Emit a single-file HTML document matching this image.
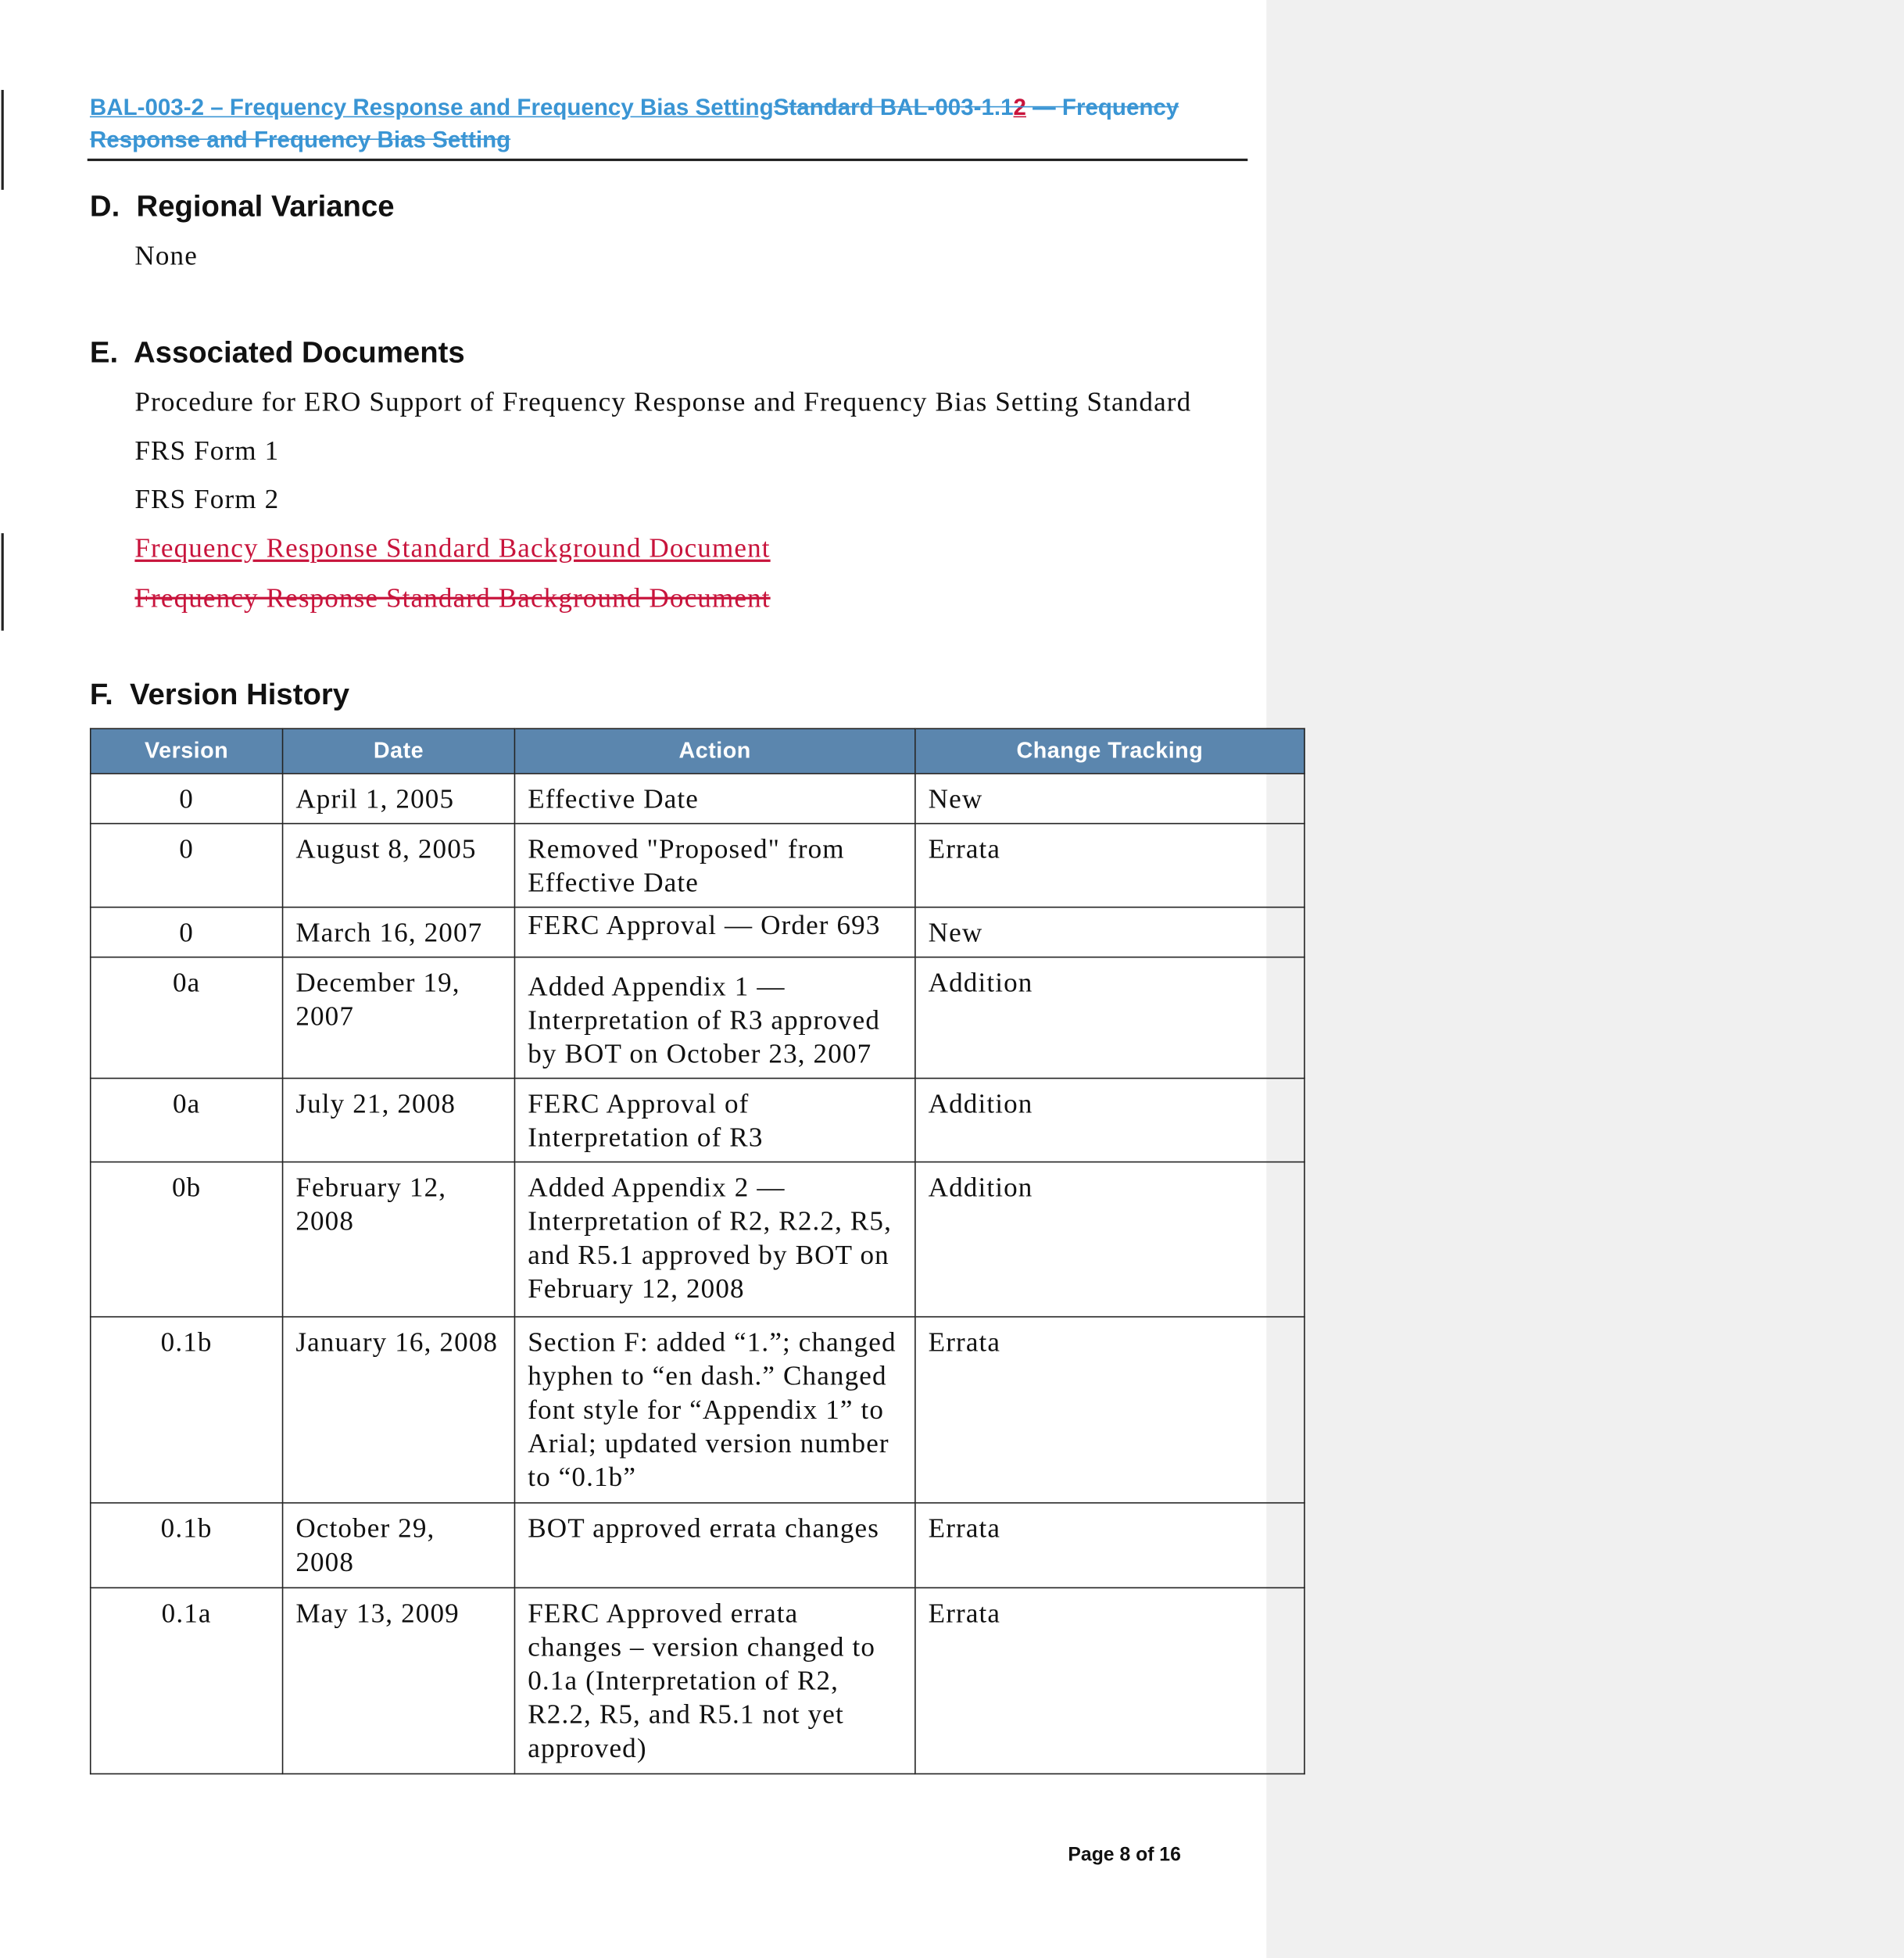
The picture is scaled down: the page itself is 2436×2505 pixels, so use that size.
<!DOCTYPE html>
<html><head><meta charset="utf-8"><style>
html,body{margin:0;padding:0;background:#fff;}
body{width:2436px;height:2505px;overflow:hidden;position:relative;}
#pg{position:absolute;left:0;top:0;width:1526px;height:1568px;transform:scale(1.5963,1.5976);transform-origin:0 0;}
.a{position:absolute;white-space:nowrap;}
.gray{position:absolute;left:1015px;top:0;width:511px;height:1568px;background:#f0f0f0;}
.hdr{font-family:"Liberation Sans",sans-serif;font-weight:bold;font-size:18.5px;color:#3a95d4;}
.h{font-family:"Liberation Sans",sans-serif;font-weight:bold;font-size:24px;color:#111;}
.t{font-family:"Liberation Serif",serif;font-size:22px;letter-spacing:0.7px;color:#111;}
.red{color:#c8143c;}
table{position:absolute;left:72px;top:583px;border-collapse:collapse;font-family:"Liberation Serif",serif;font-size:22px;letter-spacing:0.7px;color:#111;}
td,th{border:1.5px solid #222;vertical-align:top;padding:6px 10px 0 10px;line-height:27px;box-sizing:border-box;}
th{background:#5b86ae;color:#fff;font-family:"Liberation Sans",sans-serif;font-size:18px;letter-spacing:0.3px;font-weight:bold;text-align:center;vertical-align:middle;padding:0;}
td.c{text-align:center;}
</style></head><body><div id="pg">
<div class="gray"></div>
<div class="a" style="left:1px;top:72px;width:1.5px;height:80px;background:#222"></div>
<div class="a" style="left:1px;top:427px;width:1.5px;height:78px;background:#222"></div>
<div class="a hdr" style="left:72px;top:75px;"><span style="text-decoration:underline">BAL-003-2 – Frequency Response and Frequency Bias Setting</span><span style="text-decoration:line-through">Standard BAL-003-1.1<span style="color:#c8143c;text-decoration:underline">2</span> — Frequency</span></div>
<div class="a hdr" style="left:72px;top:101px;text-decoration:line-through">Response and Frequency Bias Setting</div>
<div class="a" style="left:70px;top:127px;width:930px;height:1.5px;background:#222"></div>
<div class="a h" style="left:72px;top:152px;">D.&nbsp; Regional Variance</div>
<div class="a t" style="left:108px;top:192px;">None</div>
<div class="a h" style="left:72px;top:269px;">E.&nbsp; Associated Documents</div>
<div class="a t" style="left:108px;top:309px;">Procedure for ERO Support of Frequency Response and Frequency Bias Setting Standard</div>
<div class="a t" style="left:108px;top:348px;">FRS Form 1</div>
<div class="a t" style="left:108px;top:387px;">FRS Form 2</div>
<div class="a t red" style="left:108px;top:426px;text-decoration:underline">Frequency Response Standard Background Document</div>
<div class="a t red" style="left:108px;top:466px;text-decoration:line-through">Frequency Response Standard Background Document</div>
<div class="a h" style="left:72px;top:543px;">F.&nbsp; Version History</div>
<table>
<colgroup><col style="width:154px"><col style="width:186px"><col style="width:321px"><col style="width:312px"></colgroup>
<tr style="height:36px"><th>Version</th><th>Date</th><th>Action</th><th>Change Tracking</th></tr>
<tr style="height:40px"><td class="c">0</td><td>April 1, 2005</td><td>Effective Date</td><td>New</td></tr>
<tr style="height:67px"><td class="c">0</td><td>August 8, 2005</td><td>Removed "Proposed" from<br>Effective Date</td><td>Errata</td></tr>
<tr style="height:40px"><td class="c" style="padding-top:6px">0</td><td>March 16, 2007</td><td style="padding-top:0">FERC Approval — Order 693</td><td style="padding-top:6px">New</td></tr>
<tr style="height:97px"><td class="c">0a</td><td>December 19,<br>2007</td><td style="padding-top:9px">Added Appendix 1 —<br>Interpretation of R3 approved<br>by BOT on October 23, 2007</td><td>Addition</td></tr>
<tr style="height:67px"><td class="c">0a</td><td>July 21, 2008</td><td>FERC Approval of<br>Interpretation of R3</td><td>Addition</td></tr>
<tr style="height:124px"><td class="c">0b</td><td>February 12,<br>2008</td><td>Added Appendix 2 —<br>Interpretation of R2, R2.2, R5,<br>and R5.1 approved by BOT on<br>February 12, 2008</td><td>Addition</td></tr>
<tr style="height:149px"><td class="c">0.1b</td><td>January 16, 2008</td><td>Section F: added “1.”; changed<br>hyphen to “en dash.” Changed<br>font style for “Appendix 1” to<br>Arial; updated version number<br>to “0.1b”</td><td>Errata</td></tr>
<tr style="height:68px"><td class="c">0.1b</td><td>October 29,<br>2008</td><td>BOT approved errata changes</td><td>Errata</td></tr>
<tr style="height:149px"><td class="c">0.1a</td><td>May 13, 2009</td><td>FERC Approved errata<br>changes – version changed to<br>0.1a (Interpretation of R2,<br>R2.2, R5, and R5.1 not yet<br>approved)</td><td>Errata</td></tr>
</table>
<div class="a" style="left:856px;top:1477px;font-family:'Liberation Sans',sans-serif;font-weight:bold;font-size:15.5px;color:#111">Page 8 of 16</div>
</div></body></html>
